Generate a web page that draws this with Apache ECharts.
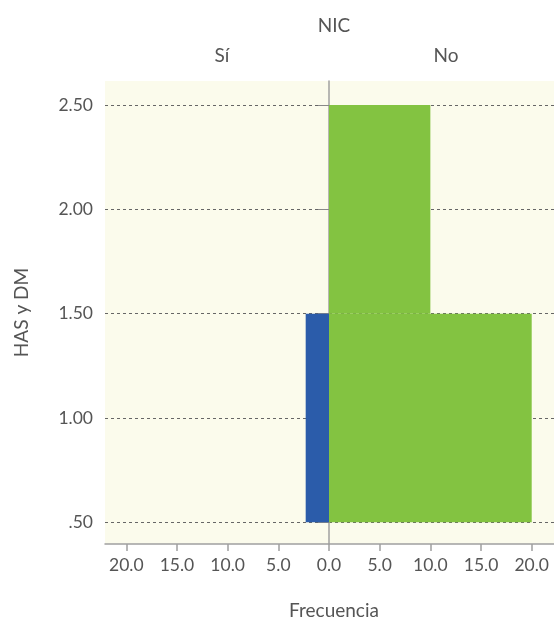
<!DOCTYPE html>
<html><head><meta charset="utf-8">
<script src="https://cdn.jsdelivr.net/npm/echarts@6/dist/echarts.min.js"></script>
<style>html,body{margin:0;padding:0;background:#fff}#c{width:554px;height:617px}</style>
</head><body><div id="c"></div>
<script>
// Data
const binLow = [0.5, 1.5];
const binHigh = [1.5, 2.5];
const freqSi = [2.3, 0];
const freqNo = [20, 10];
const xTicksLeft = [5, 10, 15, 20];
const xTicksRight = [0, 5, 10, 15, 20];
const yTicks = [0.5, 1.0, 1.5, 2.0, 2.5];
const panelLabels = ['Sí', 'No'];

const FONT = 'Lato, "Open Sans", sans-serif';
const TXT = '#555';
const AXIS = '#a0a0a0';
const BG = '#FBFBEC';
const TICKFS = 17.5;
const TEXTFS = 19;

function rect(params, api) {
  const f = api.value(0), lo = api.value(1), hi = api.value(2);
  const p1 = api.coord([0, lo]);
  const p2 = api.coord([f, hi]);
  return {
    type: 'rect',
    shape: { x: Math.min(p1[0], p2[0]), y: Math.min(p1[1], p2[1]),
             width: Math.abs(p2[0] - p1[0]), height: Math.abs(p2[1] - p1[1]) },
    style: { fill: api.visual('color') }
  };
}
const siData = freqSi.map((f, i) => [f, binLow[i], binHigh[i]]).filter(d => d[0] > 0);
const noData = freqNo.map((f, i) => [f, binLow[i], binHigh[i]]).filter(d => d[0] > 0);

const yMin = 0.396, yMax = 2.615;
const xMaxL = 22.1, xMaxR = 22.2;

const titleStyle = { fontSize: TEXTFS, fontWeight: 'normal', color: TXT, fontFamily: FONT };

const chart = echarts.init(document.getElementById('c'), null, { renderer: 'canvas' });
chart.setOption({
  backgroundColor: '#fff',
  animation: false,
  textStyle: { fontFamily: FONT },
  title: [
    { text: 'NIC', left: 329, top: 11, textAlign: 'center', textStyle: titleStyle },
    { text: panelLabels[0], left: 217, top: 41, textAlign: 'center', textStyle: titleStyle },
    { text: panelLabels[1], left: 441, top: 41, textAlign: 'center', textStyle: titleStyle },
    { text: 'Frecuencia', left: 329, top: 596, textAlign: 'center', textStyle: titleStyle }
  ],
  grid: [
    { left: 105, top: 81, width: 224, height: 463, show: true, backgroundColor: BG, borderWidth: 0 },
    { left: 329, top: 81, width: 225, height: 463, show: true, backgroundColor: BG, borderWidth: 0 }
  ],
  xAxis: [
    { gridIndex: 0, type: 'value', inverse: true, min: 0, max: xMaxL,
      axisLine: { show: true, lineStyle: { color: AXIS, width: 1.5 } },
      axisTick: { show: true, length: 7, customValues: xTicksLeft, lineStyle: { color: AXIS, width: 1.5 } },
      axisLabel: { customValues: xTicksLeft, formatter: v => v.toFixed(1), fontSize: TICKFS, color: TXT, margin: 12, fontFamily: FONT },
      splitLine: { show: false } },
    { gridIndex: 1, type: 'value', min: 0, max: xMaxR,
      axisLine: { show: true, lineStyle: { color: AXIS, width: 1.5 } },
      axisTick: { show: true, length: 7, customValues: xTicksRight, lineStyle: { color: AXIS, width: 1.5 } },
      axisLabel: { customValues: xTicksRight, formatter: v => v.toFixed(1), fontSize: TICKFS, color: TXT, margin: 12, fontFamily: FONT },
      splitLine: { show: false } }
  ],
  yAxis: [
    { gridIndex: 0, type: 'value', min: yMin, max: yMax,
      name: 'HAS y DM', nameLocation: 'middle', nameGap: 74, nameRotate: 90,
      nameTextStyle: { fontSize: TEXTFS, color: TXT, fontFamily: FONT },
      axisLine: { show: false },
      axisTick: { show: true, length: 11, customValues: yTicks, lineStyle: { color: '#888' } },
      axisLabel: { customValues: yTicks, formatter: v => v.toFixed(2).replace(/^0/, ''), fontSize: TICKFS, color: TXT, margin: 12, fontFamily: FONT },
      splitLine: { show: true, lineStyle: { color: '#666', type: [3, 3], width: 1 } } },
    { gridIndex: 1, type: 'value', min: yMin, max: yMax,
      axisLine: { show: true, lineStyle: { color: AXIS, width: 1.5 } },
      axisTick: { show: false, customValues: yTicks },
      axisLabel: { show: false, customValues: yTicks },
      splitLine: { show: true, lineStyle: { color: '#666', type: [3, 3], width: 1 } } }
  ],
  series: [
    { type: 'custom', xAxisIndex: 0, yAxisIndex: 0, renderItem: rect, data: siData,
      itemStyle: { color: '#2B5CAA' }, encode: { x: 0, y: [1, 2] }, z: 3 },
    { type: 'custom', xAxisIndex: 1, yAxisIndex: 1, renderItem: rect, data: noData,
      itemStyle: { color: '#83C341' }, encode: { x: 0, y: [1, 2] }, z: 3 }
  ]
});
</script></body></html>
